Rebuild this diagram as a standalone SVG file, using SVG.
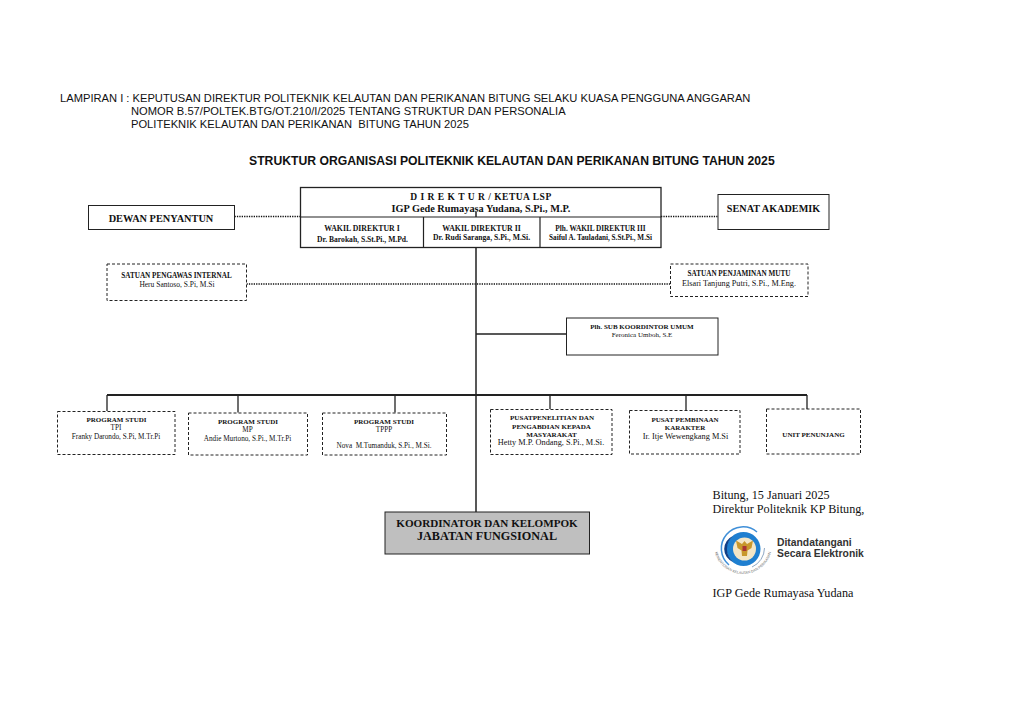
<svg xmlns="http://www.w3.org/2000/svg" width="1024" height="724" viewBox="0 0 1024 724">
<style>
text{font-family:"Liberation Serif","Times New Roman",serif;fill:#111;text-anchor:middle;white-space:pre}
.h{font-family:"Liberation Sans",Arial,sans-serif;text-anchor:start;font-size:11.170px}
.b{font-weight:bold}
.box{fill:#fff;stroke:#222;stroke-width:1}
.dash{fill:#fff;stroke:#222;stroke-width:1;stroke-dasharray:3 2}
.line{fill:none;stroke:#222;stroke-width:1.5}
.dot{fill:none;stroke:#111;stroke-width:1.600;stroke-dasharray:1.300 1.100}
.s{font-size:7px}.n{font-size:7.200px}.r{font-size:12.200px;text-anchor:start}
.e{font-family:"Liberation Sans",Arial,sans-serif;font-size:10.350px;font-weight:bold;text-anchor:start;fill:#333}
</style>
<rect width="1024" height="724" fill="#fff"/>
<g id="header">
<text class="h" x="60" y="101.500">LAMPIRAN I : KEPUTUSAN DIREKTUR POLITEKNIK KELAUTAN DAN PERIKANAN BITUNG SELAKU KUASA PENGGUNA ANGGARAN</text>
<text class="h" x="131" y="114.500">NOMOR B.57/POLTEK.BTG/OT.210/I/2025 TENTANG STRUKTUR DAN PERSONALIA</text>
<text class="h" x="131" y="127.500">POLITEKNIK KELAUTAN DAN PERIKANAN  BITUNG TAHUN 2025</text>
<text class="h b" x="249" y="164.500" style="font-size:12.200px">STRUKTUR ORGANISASI POLITEKNIK KELAUTAN DAN PERIKANAN BITUNG TAHUN 2025</text>
</g>
<g id="connectors">
<path class="dot" d="M234.500 216.500H300.500M661 216.500H718M246.500 284H670.500"/>
<path class="line" d="M476 212V217M476 247.500V512"/>
<path class="line" d="M107 395H807" style="stroke-width:1.800"/>
<path class="line" d="M107 395V411M238 395V412.500M395 395V412.500M550 395V409M686 395V410.500M807 395V409M476 334H566.500" style="stroke-width:1.300"/>
</g>
<g id="direktur">
<rect class="box" x="300.500" y="187.500" width="360.500" height="60" style="fill:none;stroke-width:1.300"/>
<path d="M300.500 217H661M423.500 217V247.500M540 217V247.500" fill="none" stroke="#222" stroke-width="1.200"/>
<text class="b" x="481" y="200" style="font-size:9.500px;letter-spacing:.5px">D I R E K T U R / KETUA LSP</text>
<text class="b" x="481" y="212" style="font-size:10.300px">IGP Gede Rumayasa Yudana, S.Pi., M.P.</text>
</g>
<g id="wadir1"><text class="b" x="362" y="230.500" style="font-size:7.800px">WAKIL DIREKTUR I</text><text class="b" x="362.500" y="241.700" style="font-size:7.600px">Dr. Barokah, S.St.Pi., M.Pd.</text></g>
<g id="wadir2"><text class="b" x="481.500" y="230.500" style="font-size:7.800px">WAKIL DIREKTUR II</text><text class="b" x="481.500" y="239.500" style="font-size:7.650px">Dr. Rudi Saranga, S.Pi., M.Si.</text></g>
<g id="wadir3"><text class="b" x="600.500" y="230.500" style="font-size:7.300px">Plh. WAKIL DIREKTUR III</text><text class="b" x="600.500" y="239.500" style="font-size:7.200px">Saiful A. Tauladani, S.St.Pi., M.Si</text></g>
<g id="dewan"><rect class="box" x="88.500" y="205.500" width="146" height="24"/><text class="b" x="161" y="221.800" style="font-size:10.300px">DEWAN PENYANTUN</text></g>
<g id="senat"><rect class="box" x="718" y="194.500" width="111" height="35"/><text class="b" x="773.500" y="211.500" style="font-size:10.200px">SENAT AKADEMIK</text></g>
<g id="spi"><rect class="dash" x="107" y="264" width="139.500" height="36.500"/><text class="b" x="176.500" y="278" style="font-size:7.200px">SATUAN PENGAWAS INTERNAL</text><text x="177" y="287" style="font-size:7.500px">Heru Santoso, S.Pi, M.Si</text></g>
<g id="spm"><rect class="dash" x="670.500" y="264" width="137.500" height="32.500"/><text class="b" x="739" y="276.300" style="font-size:7.200px">SATUAN PENJAMINAN MUTU</text><text x="739" y="286" style="font-size:8.200px">Elsari Tanjung Putri, S.Pi., M.Eng.</text></g>
<g id="subkoor"><rect class="box" x="566.500" y="318" width="151.500" height="37"/><text class="b s" x="642" y="328.500">Plh. SUB KOORDINTOR UMUM</text><text x="642" y="337" style="font-size:7px">Feronica Umboh, S.E</text></g>
<g id="prodi-tpi"><rect class="dash" x="57.500" y="411.500" width="117.500" height="43"/><text class="b s" x="116.500" y="421.500">PROGRAM STUDI</text><text class="n" x="116" y="430">TPI</text><text class="n" x="116" y="439">Franky Darondo, S.Pi, M.Tr.Pi</text></g>
<g id="prodi-mp"><rect class="dash" x="188.500" y="413" width="119" height="42"/><text class="b s" x="248" y="424">PROGRAM STUDI</text><text class="n" x="247.500" y="432">MP</text><text class="n" x="247.500" y="441">Andie Murtono, S.Pi., M.Tr.Pi</text></g>
<g id="prodi-tppp"><rect class="dash" x="322.500" y="413" width="124" height="42"/><text class="b s" x="384" y="423.500">PROGRAM STUDI</text><text class="n" x="384" y="431.500">TPPP</text><text class="n" x="384" y="448.300">Nova  M.Tumanduk, S.Pi., M.Si.</text></g>
<g id="pusat-ppm"><rect class="dash" x="490.500" y="409.500" width="121.500" height="45"/><text class="b" x="552" y="420" style="font-size:7.100px">PUSATPENELITIAN DAN</text><text class="b" x="551.500" y="428.500" style="font-size:7.100px">PENGABDIAN KEPADA</text><text class="b" x="551.500" y="436.800" style="font-size:7.100px">MASYARAKAT</text><text x="551" y="445" style="font-size:8.300px">Hetty M.P. Ondang, S.Pi., M.Si.</text></g>
<g id="pusat-karakter"><rect class="dash" x="629.500" y="410.500" width="110.500" height="43.500"/><text class="b s" x="685" y="421.700">PUSAT PEMBINAAN</text><text class="b s" x="685" y="430">KARAKTER</text><text x="685.500" y="439" style="font-size:8.300px">Ir. Itje Wewengkang M.Si</text></g>
<g id="unit"><rect class="dash" x="766.500" y="409" width="94" height="45"/><text class="b s" x="813.500" y="436.500">UNIT PENUNJANG</text></g>
<g id="koordinator"><rect x="385" y="512" width="204.500" height="42" fill="#bfbfbf" stroke="#222" stroke-width="1"/><text class="b" x="487" y="527" style="font-size:11.100px">KOORDINATOR DAN KELOMPOK</text><text class="b" x="487" y="540" style="font-size:12.200px">JABATAN FUNGSIONAL</text></g>
<g id="signature">
<text class="r" x="712.500" y="499">Bitung, 15 Januari 2025</text>
<text class="r" x="712.500" y="513">Direktur Politeknik KP Bitung,</text>
<path d="M729 565A21 21 0 0 1 757 532" fill="none" stroke="#3f8fd8" stroke-width="1.500"/>
<path d="M764.500 548A21 21 0 0 1 752 567" fill="none" stroke="#8fa8c4" stroke-width="1"/>
<circle cx="743.500" cy="549" r="17" fill="#1f7fd0"/>
<path d="M733 536A17 17 0 0 0 733 562A14 14 0 0 1 733 536Z" fill="#123f86"/>
<circle cx="744.500" cy="549" r="11.500" fill="#f4e6c6"/>
<path d="M744.500 541L747 544L753 540.500L751.500 548L747.500 550.500L747 556H742L741.500 550.500L737.500 548L736 540.500L742 544Z" fill="#c8972c"/>
<rect x="742.500" y="546" width="4" height="5" fill="#a33"/>
<path id="ring" d="M714 545A29 29 0 0 0 772 545" fill="none"/>
<text style="font-family:'Liberation Sans',Arial,sans-serif;font-size:3.600px;fill:#666"><textPath href="#ring" startOffset="50%">KEMENTERIAN KELAUTAN DAN PERIKANAN</textPath></text>
<text class="e" x="777" y="545.700">Ditandatangani</text>
<text class="e" x="777" y="557.300">Secara Elektronik</text>
<text class="r" x="712.500" y="597">IGP Gede Rumayasa Yudana</text>
</g>
</svg>
